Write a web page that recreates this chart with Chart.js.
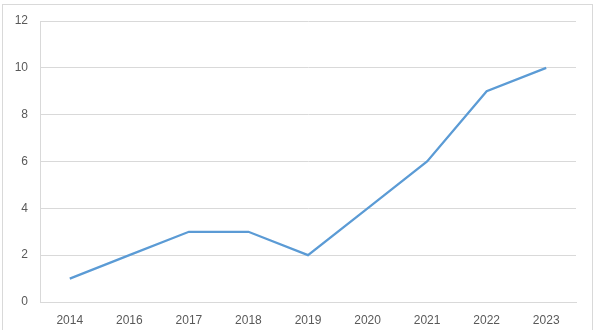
<!DOCTYPE html>
<html>
<head>
<meta charset="utf-8">
<script src="https://cdn.jsdelivr.net/npm/chart.js@4"></script>
<style>
  html, body { margin: 0; padding: 0; background: #fff; }
  #wrap { position: relative; width: 596px; height: 330px; overflow: hidden; }
  #frame { position: absolute; left: 2px; top: 4px; width: 591px; height: 340px; border: 1px solid #d9d9d9; box-sizing: border-box; }
  #chart { position: absolute; left: 0; top: 0; }
</style>
</head>
<body>
<div id="wrap">
  <div id="frame"></div>
  <canvas id="chart" width="596" height="330"></canvas>
</div>
<script>
  // data
  const years = ['2014', '2016', '2017', '2018', '2019', '2020', '2021', '2022', '2023'];
  const values = [1, 2, 3, 3, 2, 4, 6, 9, 10];
  const yMin = 0, yMax = 12, yStep = 2;

  const ctx = document.getElementById('chart').getContext('2d');
  const font = { family: '"Liberation Sans", Arial, sans-serif', size: 12 };

  new Chart(ctx, {
    type: 'line',
    data: {
      labels: years,
      datasets: [{
        data: values,
        borderColor: '#5b9bd5',
        borderWidth: 2.25,
        pointRadius: 0,
        tension: 0,
        fill: false
      }]
    },
    options: {
      responsive: false,
      animation: false,
      layout: { padding: { left: 0, right: 20, top: 21, bottom: 0 } },
      plugins: { legend: { display: false }, tooltip: { enabled: false } },
      scales: {
        x: {
          offset: true,
          grid: { display: false, drawTicks: false },
          border: { color: '#d9d9d9', width: 1 },
          ticks: { color: '#595959', font: font, padding: 11, maxRotation: 0 },
          afterFit: (s) => { s.height = 28; }
        },
        y: {
          min: yMin,
          max: yMax,
          grid: { color: '#d9d9d9', drawTicks: false },
          border: { color: '#d9d9d9', width: 1 },
          ticks: { stepSize: yStep, color: '#595959', font: font, padding: 12 },
          afterFit: (s) => { s.width = 40; }
        }
      }
    }
  });
</script>
</body>
</html>
